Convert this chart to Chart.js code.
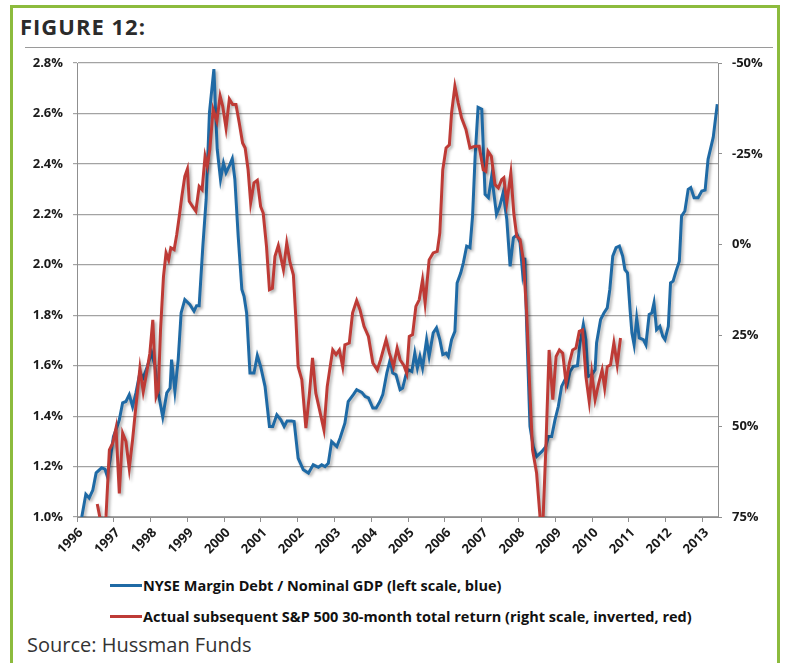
<!DOCTYPE html>
<html>
<head>
<meta charset="utf-8">
<title>Figure 12</title>
<script src="https://cdn.jsdelivr.net/npm/chart.js@4.4.0/dist/chart.umd.min.js"></script>
<style>
  body { margin: 0; width: 785px; height: 663px; overflow: hidden; background: #fff; position: relative; }
  #frame { position: absolute; left: 10px; top: 5px; width: 764px; height: 700px; border: 3px solid #8cbb3d; }
  #title { position: absolute; left: 20px; top: 15px; font: bold 22px/22px "Open Sans", sans-serif; letter-spacing: 1px; color: #2b2b2b; }
  #rule { position: absolute; left: 25px; top: 47px; width: 748px; height: 1px; background: #9a9a9a; }
  #chart { position: absolute; left: 0; top: 0; }
  .leg { position: absolute; left: 110px; font: bold 14.5px/16px "Open Sans", sans-serif; color: #111; white-space: nowrap; }
  .leg span { display: inline-block; width: 32px; height: 3px; margin-right: 1px; vertical-align: 4px; }
  #source { position: absolute; left: 27px; top: 635px; font: 20px/20px "Open Sans", sans-serif; color: #333; }
</style>
</head>
<body>
<div id="frame"></div>
<div id="title">FIGURE 12:</div>
<div id="rule"></div>
<canvas id="chart" width="785" height="560"></canvas>
<div class="leg" style="top:578px"><span style="background:#1f6aa5"></span>NYSE Margin Debt / Nominal GDP (left scale, blue)</div>
<div class="leg" style="top:609px"><span style="background:#be3b36"></span>Actual subsequent S&amp;P 500 30-month total return (right scale, inverted, red)</div>
<div id="source">Source: Hussman Funds</div>
<script>
// Axis ticks
var yearTicks = [1996, 1997, 1998, 1999, 2000, 2001, 2002, 2003, 2004, 2005,
                 2006, 2007, 2008, 2009, 2010, 2011, 2012, 2013];
var leftTicks = [1.0, 1.2, 1.4, 1.6, 1.8, 2.0, 2.2, 2.4, 2.6, 2.8];
var rightTicks = [-50, -25, 0, 25, 50, 75];

// NYSE margin debt / nominal GDP, % (left scale)
var debtYears = [
  1996.13, 1996.24, 1996.33, 1996.43, 1996.52, 1996.67, 1996.76, 1996.82, 1996.90, 1996.99,
  1997.08, 1997.15, 1997.24, 1997.33, 1997.42, 1997.51, 1997.60, 1997.71, 1997.80, 1997.91,
  1998.03, 1998.12, 1998.21, 1998.33, 1998.44, 1998.53, 1998.57, 1998.66, 1998.75, 1998.83,
  1998.93, 1999.07, 1999.18, 1999.25, 1999.32, 1999.42, 1999.51, 1999.60, 1999.72, 1999.81,
  1999.90, 1999.98, 2000.05, 2000.14, 2000.22, 2000.29, 2000.38, 2000.48, 2000.54, 2000.61,
  2000.70, 2000.81, 2000.90, 2000.99, 2001.11, 2001.23, 2001.32, 2001.43, 2001.54, 2001.63,
  2001.71, 2001.83, 2001.90, 2002.01, 2002.15, 2002.29, 2002.42, 2002.56, 2002.65, 2002.74,
  2002.83, 2002.92, 2003.06, 2003.15, 2003.28, 2003.37, 2003.51, 2003.60, 2003.74, 2003.83,
  2003.92, 2004.04, 2004.13, 2004.23, 2004.31, 2004.42, 2004.51, 2004.58, 2004.67, 2004.78,
  2004.85, 2004.94, 2005.00, 2005.10, 2005.18, 2005.25, 2005.32, 2005.39, 2005.50, 2005.57,
  2005.68, 2005.77, 2005.86, 2005.94, 2006.03, 2006.09, 2006.18, 2006.27, 2006.33, 2006.43,
  2006.50, 2006.59, 2006.68, 2006.75, 2006.82, 2006.90, 2007.00, 2007.09, 2007.18, 2007.27,
  2007.40, 2007.49, 2007.58, 2007.68, 2007.77, 2007.86, 2007.96, 2008.04, 2008.11, 2008.17,
  2008.22, 2008.31, 2008.40, 2008.49, 2008.63, 2008.74, 2008.81, 2008.90, 2008.99, 2009.08,
  2009.17, 2009.26, 2009.32, 2009.40, 2009.49, 2009.60, 2009.67, 2009.76, 2009.83, 2009.89,
  2009.99, 2010.08, 2010.12, 2010.23, 2010.32, 2010.41, 2010.48, 2010.56, 2010.65, 2010.74,
  2010.83, 2010.89, 2010.96, 2011.03, 2011.08, 2011.14, 2011.21, 2011.28, 2011.39, 2011.46,
  2011.55, 2011.62, 2011.68, 2011.75, 2011.84, 2011.92, 2011.98, 2012.07, 2012.13, 2012.20,
  2012.28, 2012.37, 2012.43, 2012.52, 2012.61, 2012.68, 2012.77, 2012.88, 2012.98, 2013.07,
  2013.15, 2013.29, 2013.40
];
var debtValues = [
  1.000, 1.090, 1.075, 1.107, 1.175, 1.195, 1.190, 1.163, 1.226, 1.319,
  1.354, 1.385, 1.453, 1.458, 1.485, 1.438, 1.491, 1.572, 1.552, 1.597,
  1.652, 1.597, 1.491, 1.397, 1.492, 1.511, 1.624, 1.498, 1.624, 1.809,
  1.862, 1.842, 1.816, 1.838, 1.838, 2.074, 2.259, 2.604, 2.776, 2.458,
  2.339, 2.403, 2.365, 2.392, 2.421, 2.339, 2.114, 1.902, 1.875, 1.809,
  1.571, 1.571, 1.640, 1.597, 1.518, 1.359, 1.359, 1.405, 1.385, 1.359,
  1.381, 1.381, 1.379, 1.233, 1.187, 1.174, 1.207, 1.197, 1.207, 1.200,
  1.213, 1.299, 1.279, 1.313, 1.372, 1.458, 1.485, 1.505, 1.494, 1.478,
  1.472, 1.432, 1.432, 1.458, 1.485, 1.571, 1.624, 1.571, 1.564, 1.505,
  1.511, 1.564, 1.584, 1.577, 1.650, 1.591, 1.637, 1.591, 1.703, 1.637,
  1.730, 1.750, 1.703, 1.644, 1.650, 1.637, 1.703, 1.736, 1.928, 1.968,
  2.008, 2.074, 2.068, 2.193, 2.431, 2.624, 2.617, 2.279, 2.266, 2.352,
  2.200, 2.233, 2.286, 2.180, 1.994, 2.107, 2.120, 2.087, 1.968, 2.028,
  1.756, 1.359, 1.279, 1.240, 1.259, 1.279, 1.319, 1.319, 1.385, 1.438,
  1.518, 1.544, 1.524, 1.577, 1.597, 1.600, 1.690, 1.763, 1.703, 1.557,
  1.564, 1.584, 1.690, 1.783, 1.809, 1.829, 1.902, 2.034, 2.068, 2.074,
  2.034, 1.981, 1.968, 1.822, 1.730, 1.683, 1.789, 1.710, 1.703, 1.683,
  1.803, 1.809, 1.849, 1.743, 1.756, 1.716, 1.703, 1.756, 1.928, 1.935,
  1.975, 2.014, 2.193, 2.213, 2.299, 2.306, 2.266, 2.266, 2.292, 2.296,
  2.418, 2.505, 2.637
];

// Actual subsequent S&P 500 30-month total return, % (right scale, inverted)
var returnYears = [
  1996.55, 1996.62, 1996.71, 1996.79, 1996.88, 1996.97, 1997.06, 1997.15, 1997.24, 1997.33,
  1997.42, 1997.51, 1997.60, 1997.71, 1997.80, 1997.89, 1997.98, 1998.06, 1998.15, 1998.21,
  1998.27, 1998.35, 1998.42, 1998.49, 1998.55, 1998.64, 1998.71, 1998.78, 1998.85, 1998.93,
  1999.00, 1999.05, 1999.14, 1999.23, 1999.32, 1999.40, 1999.48, 1999.54, 1999.61, 1999.70,
  1999.80, 1999.89, 1999.96, 2000.05, 2000.14, 2000.23, 2000.32, 2000.41, 2000.50, 2000.57,
  2000.65, 2000.72, 2000.81, 2000.90, 2000.99, 2001.06, 2001.15, 2001.23, 2001.31, 2001.38,
  2001.47, 2001.61, 2001.70, 2001.79, 2001.88, 2001.95, 2002.01, 2002.11, 2002.22, 2002.31,
  2002.40, 2002.49, 2002.58, 2002.71, 2002.80, 2002.88, 2002.95, 2003.04, 2003.13, 2003.22,
  2003.28, 2003.40, 2003.49, 2003.60, 2003.69, 2003.80, 2003.92, 2004.04, 2004.16, 2004.25,
  2004.40, 2004.49, 2004.60, 2004.70, 2004.78, 2004.89, 2004.96, 2005.03, 2005.12, 2005.21,
  2005.30, 2005.39, 2005.46, 2005.57, 2005.68, 2005.79, 2005.86, 2005.94, 2006.03, 2006.12,
  2006.18, 2006.27, 2006.36, 2006.45, 2006.57, 2006.68, 2006.82, 2006.93, 2007.04, 2007.11,
  2007.17, 2007.26, 2007.36, 2007.45, 2007.54, 2007.60, 2007.68, 2007.79, 2007.87, 2007.95,
  2008.04, 2008.13, 2008.22, 2008.31, 2008.38, 2008.49, 2008.58, 2008.625, 2008.67, 2008.74,
  2008.83, 2008.93, 2009.02, 2009.11, 2009.20, 2009.29, 2009.38, 2009.47, 2009.56, 2009.65,
  2009.74, 2009.83, 2009.92, 2009.99, 2010.08, 2010.18, 2010.27, 2010.34, 2010.41, 2010.50,
  2010.59, 2010.68, 2010.77
];
var returnValues = [
  71.4, 75.0, 84.0, 74.5, 56.5, 54.7, 50.5, 68.5, 51.9, 54.2,
  61.6, 53.8, 44.6, 34.0, 40.5, 35.4, 29.9, 20.7, 41.8, 40.0,
  23.5, 8.8, 2.3, 4.2, 0.9, 1.4, -2.7, -7.8, -13.3, -18.8,
  -20.8, -11.9, -10.5, -9.2, -16.0, -15.1, -24.3, -21.6, -26.2, -37.2,
  -34.0, -40.9, -38.1, -32.1, -40.1, -38.6, -38.6, -33.5, -28.0, -26.6,
  -20.6, -11.5, -17.0, -17.7, -10.5, -8.7, 0.5, 12.4, 12.0, 3.2,
  0.3, 6.9, -0.4, 5.0, 8.3, 20.7, 33.6, 37.2, 50.5, 41.8,
  31.2, 40.9, 45.0, 51.0, 39.1, 33.6, 29.0, 30.3, 29.0, 33.6,
  27.6, 27.1, 18.8, 15.4, 17.9, 22.5, 25.3, 32.6, 34.5, 31.7,
  26.2, 29.9, 33.6, 28.5, 31.7, 33.4, 35.4, 25.3, 24.8, 17.0,
  15.2, 9.7, 16.1, 4.2, 2.3, 1.9, -3.2, -20.6, -26.6, -27.5,
  -36.3, -43.6, -39.0, -34.9, -31.7, -26.6, -27.1, -27.1, -20.6, -20.2,
  -25.7, -24.3, -16.5, -15.6, -17.9, -18.4, -11.5, -19.7, -8.7, -2.3,
  -1.4, 4.2, 18.8, 40.9, 56.5, 62.9, 74.5, 84.0, 74.5, 56.5,
  29.0, 42.7, 30.8, 29.0, 29.9, 38.1, 32.6, 29.0, 28.5, 23.9,
  23.5, 36.3, 43.2, 35.4, 42.7, 38.1, 34.5, 39.5, 33.6, 33.1,
  27.1, 33.1, 25.7
];

(function () {
    var tickFont = { family: '"Open Sans", sans-serif', size: 13, weight: 'bold' };
    var tickColor = '#1a1a1a';
    var axisGray = '#8f8f8f';

    function points(xs, ys) {
        return xs.map(function (x, i) { return { x: x, y: ys[i] }; });
    }

    // soft drop shadow under the series lines, like the Excel original
    var lineShadow = {
        id: 'lineShadow',
        beforeDatasetDraw: function (chart) {
            var c = chart.ctx;
            c.save();
            c.shadowColor = 'rgba(0,0,0,0.30)';
            c.shadowBlur = 3;
            c.shadowOffsetX = 2;
            c.shadowOffsetY = 2;
        },
        afterDatasetDraw: function (chart) {
            chart.ctx.restore();
        }
    };

    new Chart(document.getElementById('chart'), {
        type: 'line',
        data: {
            datasets: [{
                label: 'Actual subsequent S&P 500 30-month total return (right scale, inverted, red)',
                data: points(returnYears, returnValues),
                yAxisID: 'yR',
                borderColor: '#be3b36',
                borderWidth: 3,
                pointRadius: 0,
                tension: 0,
                order: 0
            }, {
                label: 'NYSE Margin Debt / Nominal GDP (left scale, blue)',
                data: points(debtYears, debtValues),
                yAxisID: 'yL',
                borderColor: '#1f6aa5',
                borderWidth: 3,
                pointRadius: 0,
                tension: 0,
                order: 1
            }]
        },
        options: {
            responsive: false,
            animation: false,
            parsing: false,
            layout: { padding: { left: 20, right: 17, top: 63, bottom: 0 } },
            plugins: { legend: { display: false }, tooltip: { enabled: false } },
            scales: {
                x: {
                    type: 'linear',
                    min: 1996,
                    max: 2013.42,
                    afterBuildTicks: function (s) { s.ticks = yearTicks.map(function (v) { return { value: v }; }); },
                    afterFit: function (s) { s.height = 43; },
                    ticks: {
                        autoSkip: false, minRotation: 45, maxRotation: 45, padding: 3, labelOffset: 4,
                        font: { family: '"Open Sans", sans-serif', size: 13, weight: 'bold' },
                        color: tickColor,
                        callback: function (v) { return String(v); }
                    },
                    grid: { drawOnChartArea: false, tickLength: 5, color: axisGray },
                    border: { color: axisGray }
                },
                yL: {
                    position: 'left',
                    min: 1.0,
                    max: 2.8,
                    afterBuildTicks: function (s) { s.ticks = leftTicks.map(function (v) { return { value: v }; }); },
                    afterFit: function (s) { s.width = 57; },
                    ticks: { padding: 10, font: tickFont, color: tickColor,
                             callback: function (v) { return v.toFixed(1) + '%'; } },
                    grid: { color: '#a3a3a3', lineWidth: 1.2, tickLength: 4 },
                    border: { color: axisGray }
                },
                yR: {
                    position: 'right',
                    reverse: true,
                    min: -50,
                    max: 75,
                    afterBuildTicks: function (s) { s.ticks = rightTicks.map(function (v) { return { value: v }; }); },
                    afterFit: function (s) { s.width = 50; },
                    ticks: { padding: 10, font: tickFont, color: tickColor,
                             callback: function (v) { return v + '%'; } },
                    grid: { drawOnChartArea: false, tickLength: 4, color: axisGray },
                    border: { color: axisGray }
                }
            }
        },
        plugins: [lineShadow]
    });
})();
</script>
</body>
</html>
